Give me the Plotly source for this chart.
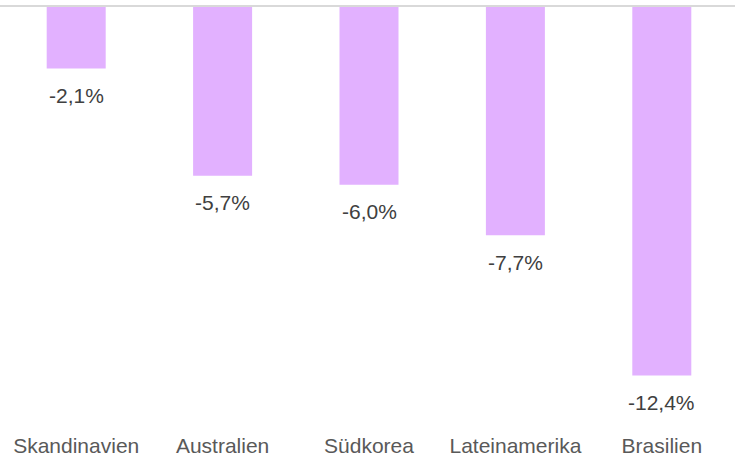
import plotly.graph_objects as go

categories = ["Skandinavien", "Australien", "Südkorea", "Lateinamerika", "Brasilien"]
values = [-2.1, -5.7, -6.0, -7.7, -12.4]
value_labels = ["-2,1%", "-5,7%", "-6,0%", "-7,7%", "-12,4%"]

FONT = "Liberation Sans, Arial, sans-serif"

fig = go.Figure()
fig.add_trace(go.Bar(
    x=categories, y=values,
    marker=dict(color="#E2B1FF", line=dict(width=0)),
    hoverinfo="skip",
))

for c, v, t in zip(categories, values, value_labels):
    fig.add_annotation(x=c, y=v, text=t, showarrow=False, yanchor="middle",
                       yshift=-27, font=dict(size=21, color="#404040", family=FONT))

fig.add_shape(type="line", xref="paper", yref="y", x0=-0.005, x1=1.0, y0=0, y1=0,
              line=dict(color="#D9D9D9", width=2), layer="above")

fig.update_layout(
    width=738, height=459,
    margin=dict(l=3, r=3, t=3, b=30),
    paper_bgcolor="white", plot_bgcolor="white",
    bargap=0.597,
    showlegend=False,
    font=dict(family=FONT, size=21, color="#595959"),
    xaxis=dict(showgrid=False, zeroline=False, showline=False, ticks="",
               tickfont=dict(size=21, color="#595959"), ticklabelstandoff=2,
               automargin=False),
    yaxis=dict(range=[-14.2, 0.1], showgrid=False, zeroline=False, showline=False,
               showticklabels=False, ticks="", automargin=False),
)

fig.write_html("out.html",
               config={"displayModeBar": False, "staticPlot": True},
               post_script="document.body.style.margin='0';document.body.style.overflow='hidden';")
